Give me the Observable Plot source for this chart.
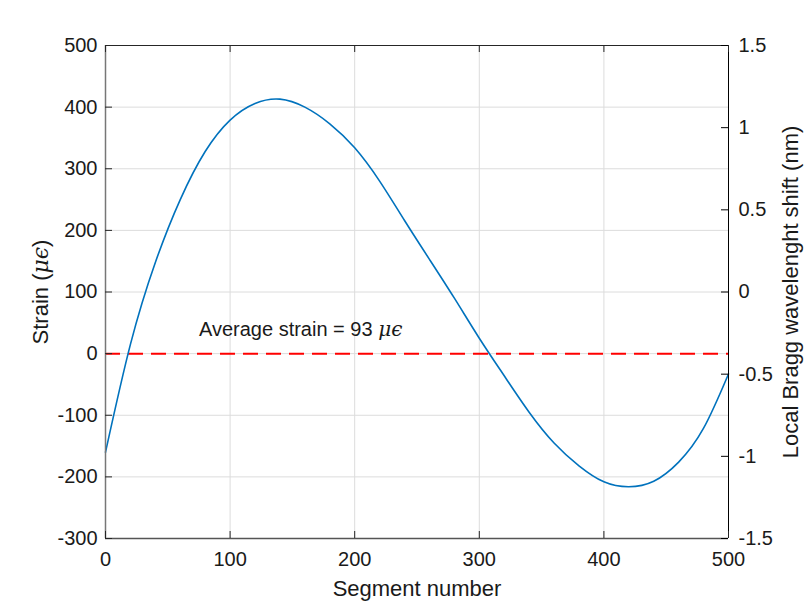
<!DOCTYPE html>
<html>
<head>
<meta charset="utf-8">
<script src="https://cdn.jsdelivr.net/npm/d3@7"></script>
<script src="https://cdn.jsdelivr.net/npm/@observablehq/plot@0.6"></script>
<style>
  html, body { margin: 0; padding: 0; background: white; }
  svg { display: block; }
</style>
</head>
<body>
<div id="chart"></div>
<script>
// ---- data (every 20 segments) ----
const segment = [0, 20, 40, 60, 80, 100, 120, 140, 160, 180, 200, 220, 240, 260, 280, 300, 320, 340, 360, 380, 400, 420, 440, 460, 480, 500];
const strain  = [-160, 15, 148, 250, 328, 379, 406, 413, 400, 373, 334, 280, 216, 153, 90, 25, -36, -95, -145, -182, -208, -216, -207, -176, -121, -33];
const avgLine = [0];
const annotation = ["Average strain = 93 με"];
const annotationX = [75];
const annotationY = [29];
const xTicks = [0, 100, 200, 300, 400, 500];
const yTicks = [-300, -200, -100, 0, 100, 200, 300, 400, 500];
const rightTicks = [-1.5, -1, -0.5, 0, 0.5, 1, 1.5];
const xDomain = [0, 500];
const yDomain = [-300, 500];
const rightDomain = [-1.5, 1.5];
const xLabel = ["Segment number"];
const yLabel = ["Strain (με)"];
const rightLabel = ["Local Bragg wavelenght shift (nm)"];

// map right-axis values onto the left (strain) scale
const toStrain = v => yDomain[0] + (v - rightDomain[0]) / (rightDomain[1] - rightDomain[0]) * (yDomain[1] - yDomain[0]);
const fromStrain = s => rightDomain[0] + (s - yDomain[0]) / (yDomain[1] - yDomain[0]) * (rightDomain[1] - rightDomain[0]);
const rightPos = rightTicks.map(toStrain);

const data = segment.map((x, i) => ({x, y: strain[i]}));
const ann = annotation.map((t, i) => ({t, x: annotationX[i], y: annotationY[i]}));

const W = 806, H = 604, mL = 105, mR = 78, mT = 45, mB = 66;
const innerW = W - mL - mR, innerH = H - mT - mB;
const tick = 7;
const axisColor = "#262626";

const chart = Plot.plot({
  width: W,
  height: H,
  marginLeft: mL,
  marginRight: mR,
  marginTop: mT,
  marginBottom: mB,
  style: {fontFamily: "'Liberation Sans', Arial, Helvetica, sans-serif", fontSize: "20px", background: "white", color: "#1a1a1a"},
  x: {domain: xDomain, label: null},
  y: {domain: yDomain, label: null},
  marks: [
    Plot.gridX(xTicks, {stroke: "#dcdcdc", strokeOpacity: 1, strokeWidth: 1}),
    Plot.gridY(yTicks, {stroke: "#dcdcdc", strokeOpacity: 1, strokeWidth: 1}),
    Plot.ruleY(avgLine, {stroke: "#ff0000", strokeWidth: 2, strokeDasharray: "15,8"}),
    Plot.line(data, {x: "x", y: "y", stroke: "#0072bd", strokeWidth: 1.6, curve: "natural"}),
    Plot.text(ann, {x: "x", y: "y", text: "t", textAnchor: "start", lineAnchor: "bottom", fontSize: 20, fill: "#1a1a1a"}),
    // frame
    Plot.ruleY([yDomain[1]], {stroke: axisColor, strokeWidth: 1}),
    Plot.ruleY([yDomain[0]], {stroke: "#555", strokeWidth: 1.5}),
    Plot.ruleX([xDomain[0]], {stroke: "#777", strokeWidth: 1.5}),
    Plot.ruleX([xDomain[1]], {stroke: "black", strokeWidth: 1}),
    // inward tick marks
    Plot.tickX(xTicks, {x: d => d, insetTop: innerH - tick, stroke: axisColor}),
    Plot.tickX(xTicks, {x: d => d, insetBottom: innerH - tick, stroke: axisColor}),
    Plot.tickY(yTicks, {y: d => d, insetRight: innerW - tick, stroke: axisColor}),
    Plot.tickY(rightPos, {y: d => d, insetLeft: innerW - tick, stroke: "black"}),
    // tick labels
    Plot.axisX(xTicks, {tickSize: 0, tickPadding: 13, tickFormat: d => String(d), label: null, fontSize: 20}),
    Plot.axisY(yTicks, {anchor: "left", tickSize: 0, tickPadding: 8, tickFormat: d => String(d), label: null, fontSize: 20}),
    Plot.axisY(rightPos, {anchor: "right", tickSize: 0, tickPadding: 10, tickFormat: s => String(Math.round(fromStrain(s) * 10) / 10), label: null, fontSize: 20}),
    // axis titles
    Plot.text(xLabel, {frameAnchor: "bottom", dy: 57, text: d => d, textAnchor: "middle", lineAnchor: "bottom", fontSize: 22, fill: "#1a1a1a"}),
    Plot.text(yLabel, {frameAnchor: "left", dx: -58, rotate: -90, text: d => d, textAnchor: "middle", lineAnchor: "bottom", fontSize: 22, fill: "#1a1a1a"}),
    Plot.text(rightLabel, {frameAnchor: "right", dx: 69, rotate: -90, text: d => d, textAnchor: "middle", lineAnchor: "bottom", fontSize: 22, fill: "#1a1a1a"})
  ]
});

// render the "με" parts in italic math style
d3.select(chart).selectAll("text").each(function () {
  const txt = this.textContent;
  const k = txt.indexOf("με");
  if (k < 0) return;
  const el = d3.select(this);
  el.selectAll("*").remove();
  el.text(null);
  el.append("tspan").text(txt.slice(0, k));
  el.append("tspan").attr("font-family", "'DejaVu Serif', serif").attr("font-style", "italic").text("μϵ");
  el.append("tspan").text(txt.slice(k + 2));
});

document.getElementById("chart").appendChild(chart);
</script>
</body>
</html>
